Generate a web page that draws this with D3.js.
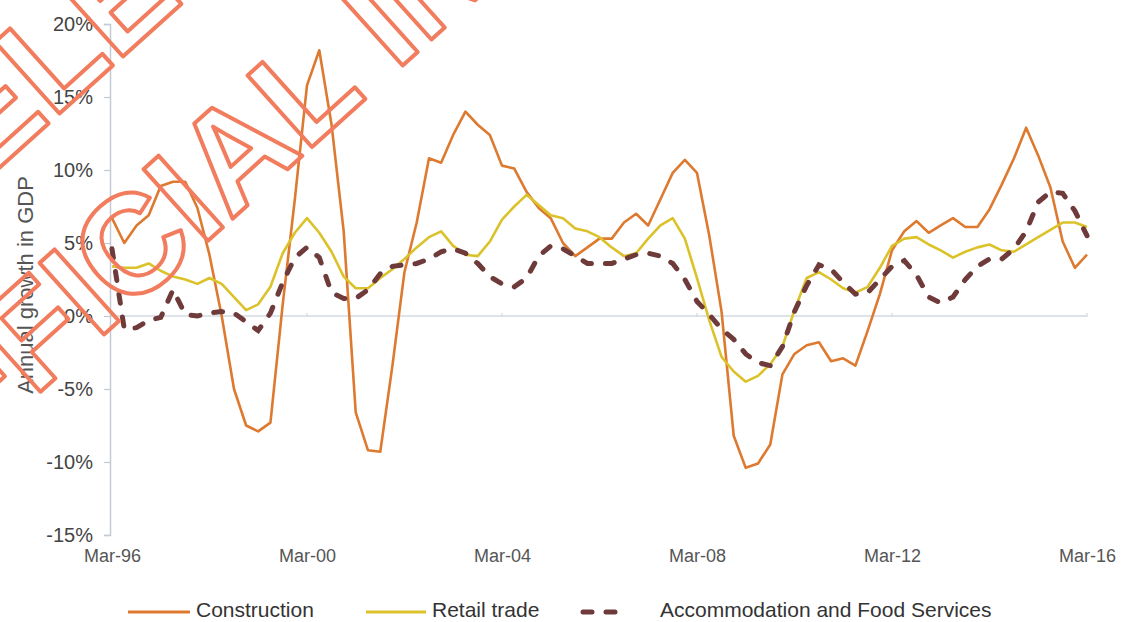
<!DOCTYPE html>
<html>
<head>
<meta charset="utf-8">
<script src="https://cdn.jsdelivr.net/npm/d3@7"></script>
<style>
  html, body { margin: 0; padding: 0; background: #ffffff; }
  svg { display: block; }
  text { font-family: "Liberation Sans", Arial, sans-serif; }
</style>
</head>
<body>
<svg id="chart" width="1121" height="622"></svg>
<script>
// Quarterly periods, March 1996 to March 2016
const quarters = d3.timeMonths(new Date(1996, 2, 1), new Date(2016, 3, 1), 3);
const tickLabels = ["Mar-96", "Mar-00", "Mar-04", "Mar-08", "Mar-12", "Mar-16"];
const yTicks = [-15, -10, -5, 0, 5, 10, 15, 20];

// Annual growth in GDP (%), by industry
const construction = [
  6.7, 5.0, 6.2, 6.9, 8.9, 9.2, 9.2, 7.4, 4.2, 0.0,
  -5.0, -7.5, -7.9, -7.3, 0.8, 8.0, 15.8, 18.2, 13.1, 5.8,
  -6.6, -9.2, -9.3, -3.4, 3.0, 6.4, 10.8, 10.5, 12.4, 14.0,
  13.1, 12.4, 10.3, 10.1, 8.5, 7.4, 6.7, 5.0, 4.1, 4.7,
  5.3, 5.3, 6.4, 7.0, 6.2, 8.0, 9.8, 10.7, 9.8, 5.5,
  0.3, -8.2, -10.4, -10.1, -8.8, -4.0, -2.6, -2.0, -1.8, -3.1,
  -2.9, -3.4, -1.0, 1.5, 4.5, 5.8, 6.5, 5.7, 6.2, 6.7,
  6.1, 6.1, 7.3, 9.0, 10.8, 12.9, 11.0, 8.8, 5.1, 3.3,
  4.2
];
const retailTrade = [
  3.4, 3.3, 3.3, 3.6, 3.1, 2.7, 2.5, 2.2, 2.6, 2.2,
  1.3, 0.4, 0.8, 2.0, 4.3, 5.7, 6.7, 5.7, 4.4, 2.7,
  1.9, 1.9, 2.6, 3.2, 3.9, 4.7, 5.4, 5.8, 4.8, 4.2,
  4.1, 5.1, 6.6, 7.5, 8.3, 7.6, 6.9, 6.7, 6.0, 5.8,
  5.4, 4.7, 4.1, 4.3, 5.3, 6.2, 6.7, 5.3, 2.6, -0.3,
  -2.8, -3.8, -4.5, -4.1, -3.3, -2.1, 0.4, 2.6, 3.0, 2.5,
  1.9, 1.6, 2.0, 3.3, 4.8, 5.3, 5.4, 4.9, 4.5, 4.0,
  4.4, 4.7, 4.9, 4.5, 4.4, 4.9, 5.4, 5.9, 6.4, 6.4,
  6.1
];
const accommodation = [
  4.6, -0.9, -0.8, -0.3, -0.1, 1.8, 0.1, 0.0, 0.2, 0.3,
  0.2, -0.4, -1.0, 0.2, 2.3, 4.0, 4.7, 4.0, 1.6, 1.2,
  1.2, 1.8, 2.9, 3.4, 3.5, 3.6, 3.9, 4.4, 4.6, 4.3,
  3.6, 2.7, 2.2, 2.0, 2.6, 4.1, 4.8, 4.6, 4.1, 3.6,
  3.6, 3.6, 3.9, 4.2, 4.3, 4.1, 3.6, 2.5, 1.0, 0.1,
  -0.9, -1.6, -2.6, -3.2, -3.4, -2.1, 0.3, 2.1, 3.5, 3.2,
  2.3, 1.5, 1.6, 2.5, 3.4, 3.8, 2.8, 1.3, 0.9, 1.3,
  2.5, 3.4, 3.9, 3.9, 4.6, 5.8, 7.8, 8.5, 8.4, 7.2,
  5.5
];

const seriesNames = ["Construction", "Retail trade", "Accommodation and Food Services"];
const seriesColors = ["#dd7a30", "#dcc22a", "#6e3a3a"];

const svg = d3.select("#chart");

const x = d3.scaleTime()
  .domain([quarters[0], quarters[quarters.length - 1]])
  .range([112, 1087]);
const y = d3.scaleLinear().domain([-15, 20]).range([535, 24]);

const fmt = d3.timeFormat("%b-%y");

// Zero line
svg.append("line")
  .attr("x1", 110).attr("x2", x.range()[1])
  .attr("y1", y(0)).attr("y2", y(0))
  .attr("stroke", "#d3d8e2").attr("stroke-width", 1.5);

// Small tick marks along the zero line
const tickDates = quarters.filter(d => tickLabels.includes(fmt(d)));
svg.selectAll(".zt").data(tickDates).enter().append("line")
  .attr("x1", d => x(d)).attr("x2", d => x(d))
  .attr("y1", y(0) - 3).attr("y2", y(0) + 1)
  .attr("stroke", "#d3d8e2").attr("stroke-width", 1.2);

// Category labels below the plot
const xAxis = svg.append("g")
  .attr("transform", `translate(0,${y(-15)})`)
  .call(d3.axisBottom(x).tickValues(tickDates).tickFormat(fmt).tickSize(0).tickPadding(14));
xAxis.select(".domain").remove();
xAxis.selectAll("text")
  .attr("font-size", 18).attr("fill", "#555")
  .style("font-family", "'Liberation Sans', Arial, sans-serif");

// Value axis
const yAxis = svg.append("g")
  .attr("transform", "translate(110,0)")
  .call(d3.axisLeft(y).tickValues(yTicks).tickFormat(d => d + "%").tickSize(6).tickSizeOuter(6).tickPadding(11));
yAxis.select(".domain").attr("stroke", "#c4c9d3").attr("stroke-width", 1.5);
yAxis.selectAll(".tick line").attr("stroke", "#c4c9d3").attr("stroke-width", 1.2);
yAxis.selectAll("text")
  .attr("font-size", 20).attr("fill", "#444")
  .style("font-family", "'Liberation Sans', Arial, sans-serif");

svg.append("text")
  .attr("transform", "translate(33,285) rotate(-90)")
  .attr("text-anchor", "middle")
  .attr("font-size", 22).attr("fill", "#555")
  .text("Annual growth in GDP");

// Series lines
const line = d3.line()
  .x((d, i) => x(quarters[i]))
  .y(d => y(d));

svg.append("path").datum(construction)
  .attr("fill", "none").attr("stroke", seriesColors[0])
  .attr("stroke-width", 2.6).attr("stroke-linejoin", "round")
  .attr("d", line);

svg.append("path").datum(retailTrade)
  .attr("fill", "none").attr("stroke", seriesColors[1])
  .attr("stroke-width", 2.6).attr("stroke-linejoin", "round")
  .attr("d", line);

svg.append("path").datum(accommodation)
  .attr("fill", "none").attr("stroke", seriesColors[2])
  .attr("stroke-width", 5).attr("stroke-linecap", "round")
  .attr("stroke-dasharray", "9,14")
  .attr("d", line);

// Legend
const legendItems = [
  { name: seriesNames[0], color: seriesColors[0], x1: 128, x2: 190, tx: 196, dash: null, w: 3 },
  { name: seriesNames[1], color: seriesColors[1], x1: 366, x2: 426, tx: 432, dash: null, w: 3 },
  { name: seriesNames[2], color: seriesColors[2], x1: 583, x2: 620, tx: 660, dash: "9,14", w: 5 }
];
const lg = svg.append("g");
legendItems.forEach(it => {
  lg.append("line")
    .attr("x1", it.x1).attr("x2", it.x2).attr("y1", 612).attr("y2", 612)
    .attr("stroke", it.color).attr("stroke-width", it.w)
    .attr("stroke-linecap", it.dash ? "round" : "butt")
    .attr("stroke-dasharray", it.dash);
  lg.append("text")
    .attr("x", it.tx).attr("y", 617)
    .attr("font-size", 21).attr("fill", "#333")
    .text(it.name);
});

// Release stamp across the top-left corner
const stamp = svg.append("g")
  .attr("fill", "none")
  .attr("stroke", "#f27c5e")
  .attr("stroke-width", 4)
  .attr("stroke-linejoin", "round")
  .attr("font-size", 140)
  .attr("font-weight", "bold")
  .style("font-family", "'Liberation Sans', Arial, sans-serif");
stamp.append("text")
  .attr("transform", "translate(-92,250) rotate(-42)")
  .text("RELEASED UNDER THE");
stamp.append("text")
  .attr("transform", "translate(-111,528) rotate(-42)")
  .text("OFFICIAL INFORMATION ACT");
</script>
</body>
</html>
